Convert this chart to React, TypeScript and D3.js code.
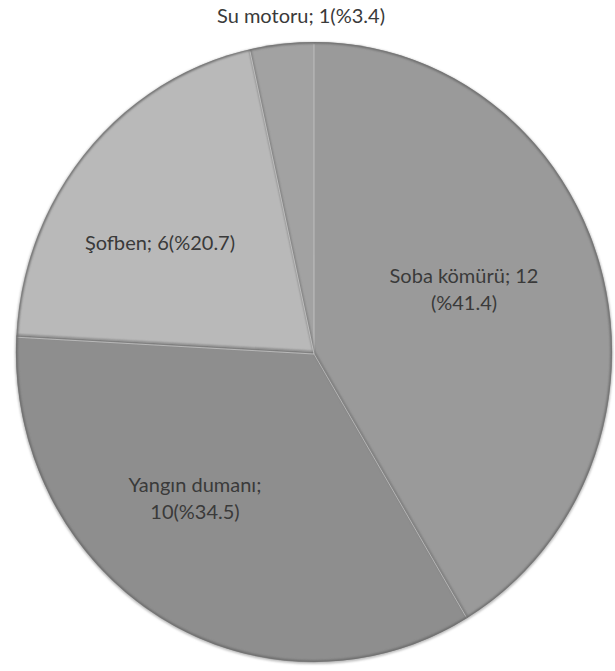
import React from "react";
import * as d3 from "d3";

const categories = ["Soba kömürü", "Yangın dumanı", "Şofben", "Su motoru"];
const values = [12, 10, 6, 1];
const percents = ["41.4", "34.5", "20.7", "3.4"];
const labelLines = [
  ["Soba kömürü; 12", "(%41.4)"],
  ["Yangın dumanı;", "10(%34.5)"],
  ["Şofben; 6(%20.7)"],
  ["Su motoru; 1(%3.4)"],
];
const colors = ["#9a9a9a", "#8e8e8e", "#b9b9b9", "#a2a2a2"];

const W = 615;
const H = 671;
const cx = 314;
const cy = 352;
const rx = 298;
const ry = 310;

export default function App() {
  const pie = d3.pie<number>().sort(null).value((d) => d)(values);
  const arc = d3.arc<d3.PieArcDatum<number>>().innerRadius(0).outerRadius(1);
  const toXY = (angle: number, frac: number): [number, number] => [
    cx + rx * frac * Math.sin(angle),
    cy - ry * frac * Math.cos(angle),
  ];
  const labelAt: [number, number][] = [
    [464, 283],
    [195, 492],
    [160, 250],
    [301, 23],
  ];
  const lineGap = 27;
  return (
    <svg
      width={W}
      height={H}
      style={{ position: "absolute", left: 0, top: 0, background: "#fff" }}
      fontFamily="Lato, 'Open Sans', sans-serif"
    >
      <defs>
        <filter id="blur1" x="-10%" y="-10%" width="120%" height="120%">
          <feGaussianBlur stdDeviation="1.2" />
        </filter>
        <clipPath id="pieclip">
          <ellipse cx={cx} cy={cy} rx={rx} ry={ry} />
        </clipPath>
      </defs>
      <ellipse cx={cx} cy={cy + 1} rx={rx + 1} ry={ry + 1} fill="#bdbdbd" filter="url(#blur1)" />
      <g transform={`translate(${cx},${cy}) scale(${rx},${ry})`}>
        {pie.map((d, i) => (
          <path key={categories[i]} d={arc(d) || ""} fill={colors[i]} stroke="none" />
        ))}
      </g>
      <g clipPath="url(#pieclip)">
        {pie.map((d, i) => {
          const [x1, y1] = toXY(d.startAngle, 1);
          return (
            <g key={"b" + i}>
              <line x1={cx} y1={cy} x2={x1} y2={y1} stroke="#6e6e6e" strokeWidth={1.6} filter="url(#blur1)" />
              <line x1={cx} y1={cy} x2={x1} y2={y1} stroke="#d8d8d8" strokeWidth={1} opacity={0.6} transform="translate(0,2)" />
            </g>
          );
        })}
        <ellipse cx={cx} cy={cy} rx={rx} ry={ry} fill="none" stroke="#6a6a6a" strokeWidth={3} filter="url(#blur1)" />
      </g>
      <g fill="#3a3a3a" fontSize={20} textAnchor="middle">
        {labelLines.map((lines, i) =>
          lines.map((t, j) => (
            <text key={categories[i] + j} x={labelAt[i][0]} y={labelAt[i][1] + j * lineGap}>
              {t}
            </text>
          ))
        )}
      </g>
    </svg>
  );
}
